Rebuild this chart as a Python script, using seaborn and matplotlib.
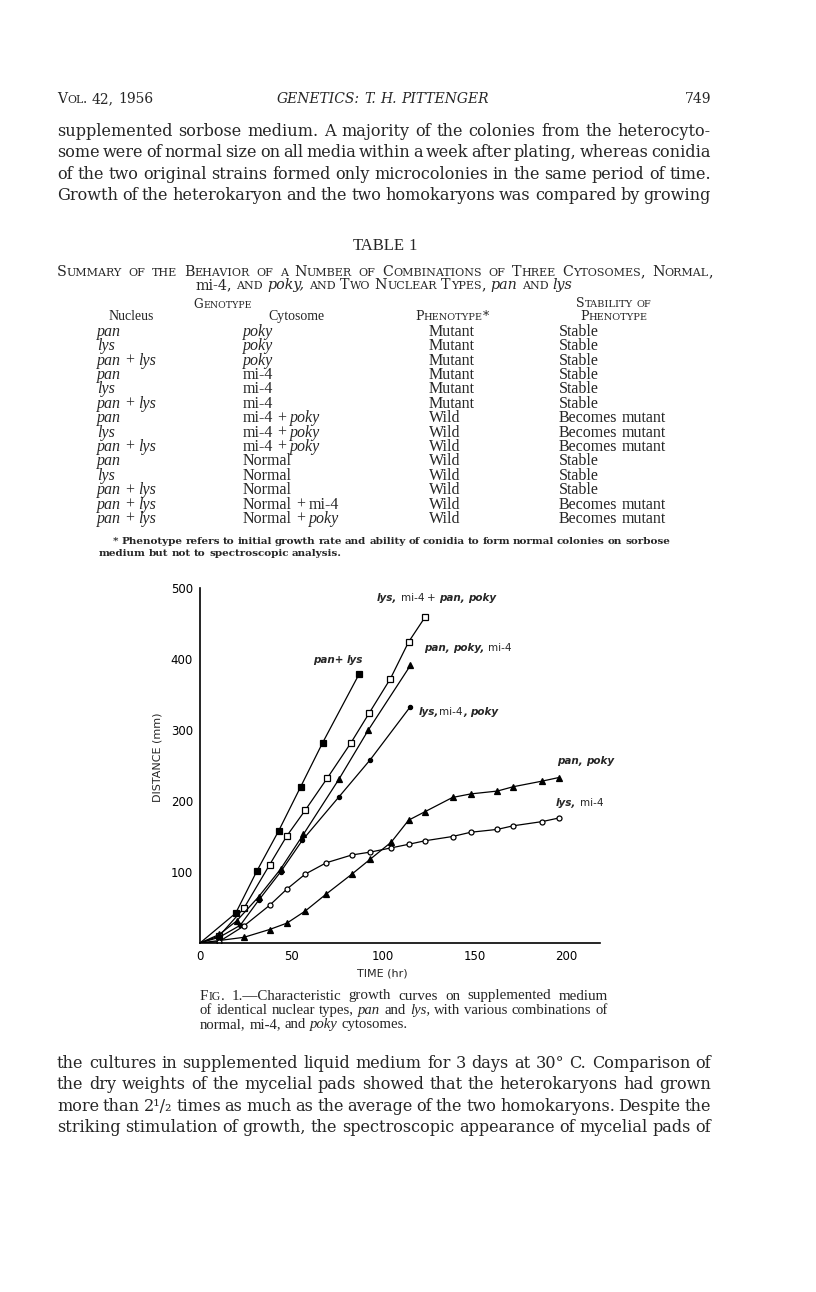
import matplotlib
matplotlib.use("Agg")
import matplotlib.pyplot as plt
import seaborn as sns

W, H = 816, 1292

panlys_t = [0, 19.5, 31, 43, 55, 67, 87]
panlys_d = [0, 42, 101, 158, 220, 282, 379]
het_t = [0, 10.5, 24, 38, 47.5, 57.5, 69.5, 82.5, 92.5, 104, 114, 123]
het_d = [0, 10, 49, 110, 151, 187, 232, 282, 324, 372, 424, 459]
ppm_t = [0, 10.5, 20, 32, 44, 56.5, 76, 92, 115]
ppm_d = [0, 12, 31, 65, 104, 153, 231, 300, 391]
lmp_t = [0, 10.5, 22, 32, 44, 56, 76, 93, 115]
lmp_d = [0, 8, 25, 60, 100, 145, 206, 258, 333]
pp_t = [0, 24, 38, 47.5, 57.5, 69, 83, 93, 104.5, 114, 123, 138, 148, 162.5, 171, 187, 196]
pp_d = [0, 8, 19, 28, 45, 69, 97, 118, 142, 173, 185, 205, 210, 214, 220, 228, 233]
lm_t = [0, 10.5, 24, 38, 47.5, 57.5, 69, 83, 93, 104.5, 114, 123, 138, 148, 162.5, 171, 187, 196]
lm_d = [0, 2, 24, 53, 76, 97, 113, 124, 128, 134, 139, 144, 150, 156, 160, 165, 171, 176]

x_ticks = [0, 50, 100, 150, 200]
y_ticks = [100, 200, 300, 400, 500]

# page text: _x_ = italic, ^word = small caps, !word = no small caps
top_lines = [
    "supplemented sorbose medium.  A majority of the colonies from the heterocyto-",
    "some were of normal size on all media within a week after plating, whereas conidia",
    "of the two original strains formed only microcolonies in the same period of time.",
    "Growth of the heterokaryon and the two homokaryons was compared by growing",
]
bottom_lines = [
    "the cultures in supplemented liquid medium for 3 days at 30\u00b0 C.  Comparison of",
    "the dry weights of the mycelial pads showed that the heterokaryons had grown",
    "more than 2\u00b9/\u2082 times as much as the average of the two homokaryons.  Despite the",
    "striking stimulation of growth, the spectroscopic appearance of mycelial pads of",
]
nucleus = ["_pan_", "_lys_", "_pan_ + _lys_", "_pan_", "_lys_", "_pan_ + _lys_", "_pan_", "_lys_",
           "_pan_ + _lys_", "_pan_", "_lys_", "_pan_ + _lys_", "_pan_ + _lys_", "_pan_ + _lys_"]
cytosome = ["_poky_", "_poky_", "_poky_", "mi-4", "mi-4", "mi-4", "mi-4 + _poky_", "mi-4 + _poky_",
            "mi-4 + _poky_", "Normal", "Normal", "Normal", "Normal + mi-4", "Normal + _poky_"]
phenotype = ["Mutant"] * 6 + ["Wild"] * 8
stability = ["Stable"] * 6 + ["Becomes mutant"] * 3 + ["Stable"] * 3 + ["Becomes mutant"] * 2
fig_caption = [
    "^Fig. 1.\u2014Characteristic growth curves on supplemented medium",
    "of identical nuclear types, _pan_ and _lys,_ with various combinations of",
    "normal, mi-4, and _poky_ cytosomes.",
]

sns.set_style("white")
plt.rcParams["font.family"] = ["DejaVu Sans"]
fig = plt.figure(figsize=(W / 100, H / 100), dpi=100)
fig.patch.set_facecolor("white")
rend = fig.canvas.get_renderer()


def parse(s, caps=False):
    words = []
    ital = False
    for w in s.split(" "):
        if w == "":
            continue
        wc = caps
        if w.startswith("!"):
            w, wc = w[1:], False
        elif w.startswith("^"):
            w, wc = w[1:], True
        segs = []
        for i, p in enumerate(w.split("_")):
            if i > 0:
                ital = not ital
            if not p:
                continue
            if wc and not ital:
                for ch in p:
                    sc = 0.78 if ch.islower() else 1.0
                    if segs and segs[-1][2] == sc and segs[-1][1] == ital:
                        segs[-1] = (segs[-1][0] + ch.upper(), ital, sc)
                    else:
                        segs.append((ch.upper(), ital, sc))
            else:
                segs.append((p, ital, 1.0))
        words.append(segs)
    return words


def put(px, py, s, size, family="DejaVu Serif", ha="left", width=None, caps=False,
        weight="normal", ibold=False):
    words = parse(s, caps)
    rows, lens = [], []
    for segs in words:
        row, tot = [], 0.0
        for txt, it, sc in segs:
            t = fig.text(0, 0, txt, fontsize=size * sc, family=family,
                         style="italic" if it else "normal",
                         weight="bold" if (it and ibold) else weight, va="baseline")
            row.append((t, tot))
            tot += t.get_window_extent(rend).width
        rows.append(row)
        lens.append(tot)
    a = fig.text(0, 0, "xx", fontsize=size, family=family)
    b = fig.text(0, 0, "x x", fontsize=size, family=family)
    space = b.get_window_extent(rend).width - a.get_window_extent(rend).width
    a.remove()
    b.remove()
    gap = space
    if width is not None and len(words) > 1:
        gap = (width - sum(lens)) / (len(words) - 1)
    total = sum(lens) + gap * (len(words) - 1)
    x = px - total / 2 if ha == "center" else (px - total if ha == "right" else px)
    base = py + 0.3 * size * 100 / 72
    for row, ln in zip(rows, lens):
        for t, off in row:
            t.set_position(((x + off) / W, 1 - base / H))
        x += ln + gap


TAB = "Liberation Serif"

# running head and text
put(57, 99, "Vol. 42, 1956", 10, caps=True)
put(383, 99, "_GENETICS: T. H. PITTENGER_", 10, ha="center")
put(711, 99, "749", 10, ha="right")
for i, line in enumerate(top_lines):
    put(57, 131 + i * 21.5, line, 11.6, width=654)

# table
put(385, 245, "TABLE 1", 12, family=TAB, ha="center")
put(57, 272, "Summary of the Behavior of a Number of Combinations of Three Cytosomes, Normal,",
    10.3, caps=True, width=656)
put(384, 285, "!mi-4, and _poky,_ and Two Nuclear Types, _pan_ and _lys_", 10.3, caps=True, ha="center")
put(223, 304, "Genotype", 8.7, caps=True, ha="center")
put(614, 303, "Stability of", 9, caps=True, ha="center")
put(131, 316, "Nucleus", 10, family=TAB, ha="center")
put(296, 316, "Cytosome", 10, family=TAB, ha="center")
put(452, 316, "Phenotype*", 9, caps=True, ha="center")
put(614, 316, "Phenotype", 9, caps=True, ha="center")
for i in range(len(nucleus)):
    y = 331 + i * 14.4
    put(97, y, nucleus[i], 11.5, family=TAB)
    put(243, y, cytosome[i], 11.5, family=TAB)
    put(429, y, phenotype[i], 11.5, family=TAB)
    put(559, y, stability[i], 11.5, family=TAB)
put(113, 541, "* Phenotype refers to initial growth rate and ability of conidia to form normal colonies on sorbose",
    7.5, width=557, weight="bold")
put(99, 553, "medium but not to spectroscopic analysis.", 7.5, weight="bold")

# Fig. 1
ax = fig.add_axes([200 / W, 1 - 943 / H, 400 / W, 355 / H])
series = [
    (panlys_t, panlys_d, "s", 4.6, "black"),
    (het_t, het_d, "s", 4.3, "white"),
    (ppm_t, ppm_d, "^", 4.2, "black"),
    (lmp_t, lmp_d, "o", 3.0, "black"),
    (pp_t, pp_d, "^", 4.2, "black"),
    (lm_t, lm_d, "o", 3.6, "white"),
]
for t, d, m, ms, fc in series:
    sns.lineplot(x=t, y=d, ax=ax, color="black", lw=0.9, marker=m, markersize=ms,
                 markerfacecolor=fc, markeredgecolor="black", markeredgewidth=0.9,
                 markevery=list(range(1, len(t))))
ax.set_xlim(0, 218.6)
ax.set_ylim(0, 500)
ax.set_xticks(x_ticks)
ax.set_yticks(y_ticks)
sns.despine(ax=ax)
for sp in ["left", "bottom"]:
    ax.spines[sp].set_linewidth(1.2)
    ax.spines[sp].set_color("black")
ax.tick_params(axis="y", direction="out", length=4, width=1, labelsize=8.5, pad=1, colors="black")
ax.tick_params(axis="x", direction="out", length=2, width=1, labelsize=8.5, pad=3, colors="black")
ax.set_xlabel("TIME (hr)", fontsize=8)
ax.set_ylabel("DISTANCE (mm)", fontsize=8)
ax.xaxis.set_label_coords((382 - 200) / 400, -(969 - 943) / 355)
ax.yaxis.set_label_coords(-(200 - 163) / 400, (943 - 757) / 355)

put(377, 598, "_lys,_ mi-4 + _pan, poky_", 7.5, family="DejaVu Sans", ibold=True)
put(424, 648, "_pan, poky,_ mi-4", 7.5, family="DejaVu Sans", ibold=True)
put(313, 660, "_pan+ lys_", 7.5, family="DejaVu Sans", ibold=True)
put(419, 712, "_lys,_mi-4_,_ _poky_", 7.5, family="DejaVu Sans", ibold=True)
put(557, 761, "_pan, poky_", 7.5, family="DejaVu Sans", ibold=True)
put(556, 803, "_lys,_ mi-4", 7.5, family="DejaVu Sans", ibold=True)

put(200, 995, fig_caption[0], 10.8, family=TAB, width=408)
put(200, 1010, fig_caption[1], 10.6, family=TAB, width=408)
put(200, 1024, fig_caption[2], 10.6, family=TAB)

for i, line in enumerate(bottom_lines):
    put(57, 1063 + i * 21.5, line, 11.6, width=654)

fig.savefig("out.png", dpi=100, facecolor="white")
